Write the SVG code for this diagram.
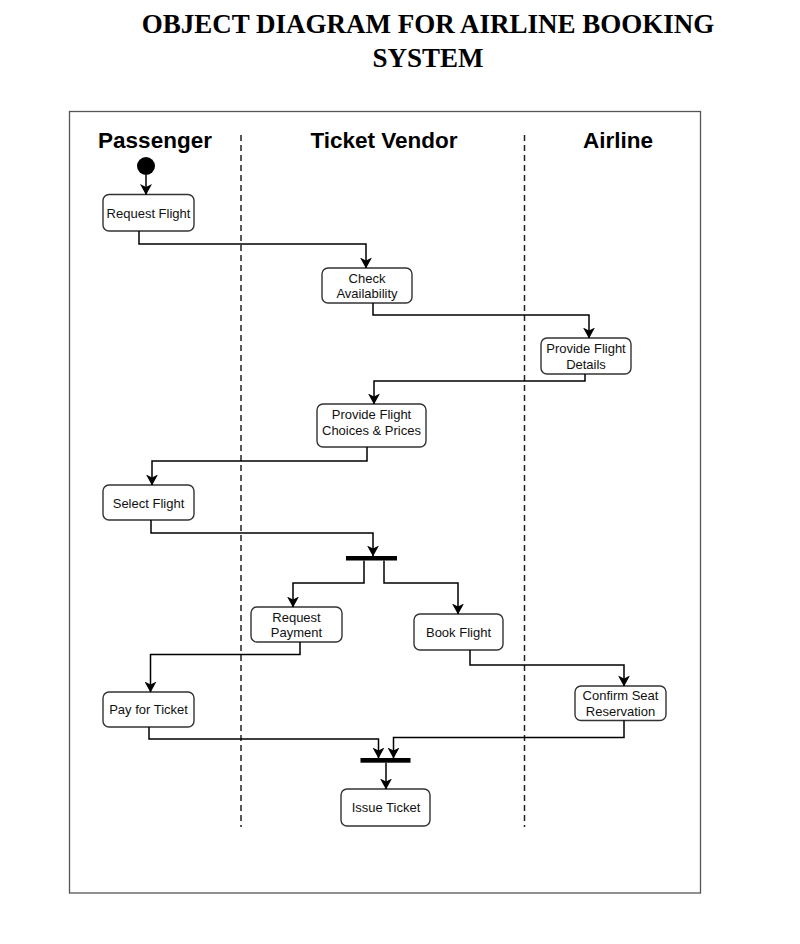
<svg xmlns="http://www.w3.org/2000/svg" width="800" height="944" viewBox="0 0 800 944">
<defs>
<style>
.title{font-family:"Liberation Serif","Times New Roman",serif;font-weight:bold;font-size:27px;fill:#000;text-anchor:middle}
.lane{font-family:"Liberation Sans",Arial,sans-serif;font-weight:bold;font-size:22.5px;fill:#000;text-anchor:middle}
.nt{font-family:"Liberation Sans",Arial,sans-serif;font-size:13px;fill:#111;text-anchor:middle}
.box{fill:#fff;stroke:#333;stroke-width:1.4}
.sep{stroke:#222;stroke-width:1.5;stroke-dasharray:6 4;fill:none}
.c{fill:none;stroke:#000;stroke-width:1.5;marker-end:url(#ah)}
.bar{fill:#000}
</style>
<marker id="ah" viewBox="0 0 11 12" refX="10.5" refY="6" markerWidth="11" markerHeight="12" markerUnits="userSpaceOnUse" orient="auto">
<path d="M0,0 L11,6 L0,12 L3,6 Z" fill="#000"/>
</marker>
</defs>
<rect width="800" height="944" fill="#fff"/>
<text class="title" x="428" y="33">OBJECT DIAGRAM FOR AIRLINE BOOKING</text>
<text class="title" x="428" y="67">SYSTEM</text>
<rect x="69.5" y="111.5" width="631" height="781.5" fill="none" stroke="#555" stroke-width="1.3"/>
<g id="lanes">
<text class="lane" x="155" y="148">Passenger</text>
<text class="lane" x="384" y="148">Ticket Vendor</text>
<text class="lane" x="618" y="148">Airline</text>
<line class="sep" x1="241" y1="135" x2="241" y2="827"/>
<line class="sep" x1="524.5" y1="135" x2="524.5" y2="827"/>
</g>
<g id="start"><circle cx="146" cy="166" r="9" fill="#000"/></g>
<g id="n-request-flight"><rect class="box" x="103" y="194.5" width="91" height="36.5" rx="6"/><text class="nt" x="148.5" y="217.5">Request Flight</text></g>
<g id="n-check-availability"><rect class="box" x="322" y="268" width="90" height="35" rx="6"/><text class="nt" x="367" y="282.5">Check</text><text class="nt" x="367" y="297.5">Availability</text></g>
<g id="n-provide-flight-details"><rect class="box" x="541" y="338" width="90" height="36" rx="6"/><text class="nt" x="586" y="353">Provide Flight</text><text class="nt" x="586" y="368.5">Details</text></g>
<g id="n-provide-choices"><rect class="box" x="317" y="404" width="109" height="43" rx="6"/><text class="nt" x="371.5" y="418.5">Provide Flight</text><text class="nt" x="371.5" y="434.5">Choices &amp; Prices</text></g>
<g id="n-select-flight"><rect class="box" x="103" y="485" width="91" height="35" rx="6"/><text class="nt" x="148.5" y="508">Select Flight</text></g>
<g id="fork"><rect class="bar" x="346" y="556" width="51" height="4.5"/></g>
<g id="n-request-payment"><rect class="box" x="251" y="607" width="91" height="35" rx="6"/><text class="nt" x="296.5" y="621.5">Request</text><text class="nt" x="296.5" y="637">Payment</text></g>
<g id="n-book-flight"><rect class="box" x="414" y="614" width="89" height="36" rx="6"/><text class="nt" x="458.5" y="636.5">Book Flight</text></g>
<g id="n-pay-ticket"><rect class="box" x="103" y="692" width="91" height="35" rx="6"/><text class="nt" x="148.5" y="714">Pay for Ticket</text></g>
<g id="n-confirm-seat"><rect class="box" x="575" y="686" width="91" height="34.5" rx="6"/><text class="nt" x="620.5" y="700">Confirm Seat</text><text class="nt" x="620.5" y="716">Reservation</text></g>
<g id="join"><rect class="bar" x="360.5" y="758" width="50" height="4.7"/></g>
<g id="n-issue-ticket"><rect class="box" x="341" y="789" width="89" height="37" rx="6"/><text class="nt" x="386" y="812">Issue Ticket</text></g>
<g id="connectors">
<path class="c" d="M146,175 V194.5"/>
<path class="c" d="M139,231 V244 H366 V268"/>
<path class="c" d="M373,303 V315 H589 V338"/>
<path class="c" d="M585,374 V381 H374 V404"/>
<path class="c" d="M367,447 V461 H152 V485"/>
<path class="c" d="M151,520 V533 H373 V556"/>
<path class="c" d="M364,560.5 V583 H293 V607"/>
<path class="c" d="M384,560.5 V583 H458 V614"/>
<path class="c" d="M300,642 V654.5 H150.5 V692"/>
<path class="c" d="M470,650 V665 H624 V686"/>
<path class="c" d="M149,727 V739 H378.5 V758"/>
<path class="c" d="M624,720.5 V737.5 H393.5 V758"/>
<path class="c" d="M386,762.7 V789"/>
</g>
</svg>
